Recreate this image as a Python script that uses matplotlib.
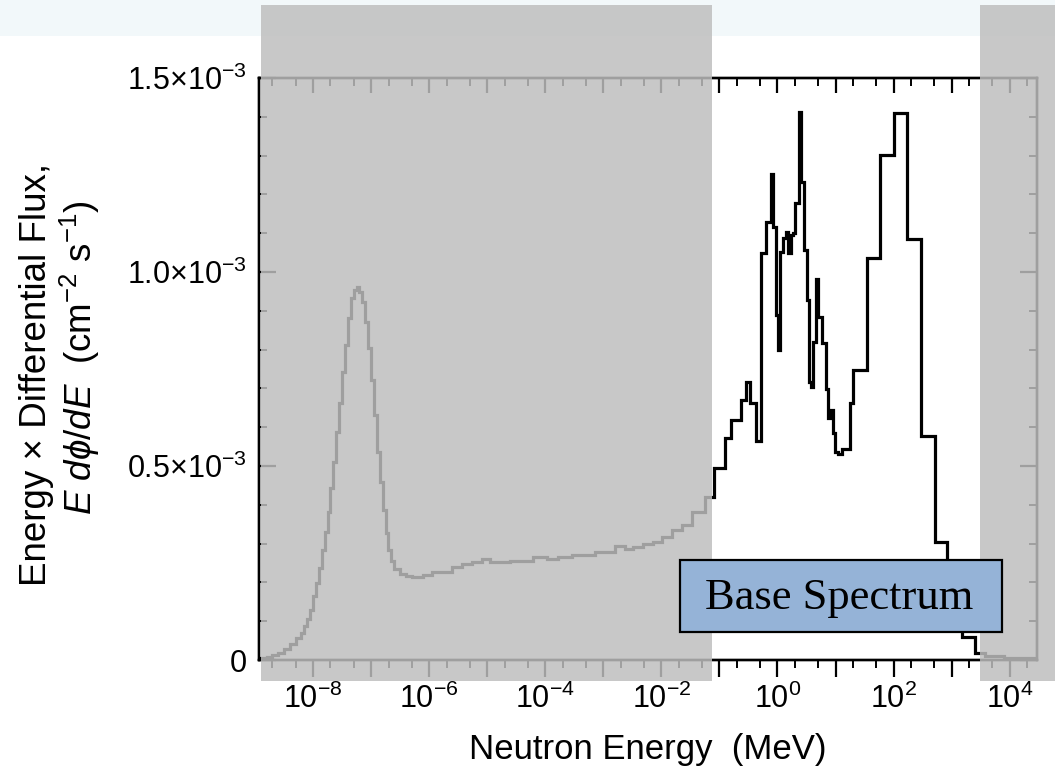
import numpy as np
import matplotlib
matplotlib.use('Agg')
import matplotlib.pyplot as plt
from matplotlib.patches import Rectangle
from matplotlib.ticker import FixedLocator, FuncFormatter, LogLocator, NullFormatter, MultipleLocator

# ---------------- data ----------------
# log10 of bin edges (MeV) -- thermal / epithermal part (lower edges)
log_edges_low = [-8.93, -8.8, -8.7, -8.6, -8.5, -8.4, -8.3, -8.2, -8.15, -8.1,
                 -8.05, -8.0, -7.95, -7.9, -7.85, -7.8, -7.75, -7.7, -7.65, -7.6,
                 -7.55, -7.5, -7.45, -7.4, -7.35, -7.3, -7.25, -7.2, -7.15, -7.1,
                 -7.05, -7.0, -6.95, -6.9, -6.85, -6.8, -6.75, -6.7, -6.65, -6.6,
                 -6.5, -6.4, -6.3, -6.1, -5.95, -5.8, -5.61, -5.43, -5.26, -5.09,
                 -4.95, -4.6, -4.21, -3.97, -3.78, -3.54, -3.14, -2.80, -2.625, -2.49,
                 -2.315, -2.14, -1.99, -1.816, -1.643, -1.471, -1.247]
# E dphi/dE in units of 1e-3 cm^-2 s^-1
flux_low = [0.006, 0.009, 0.013, 0.019, 0.028, 0.040, 0.057, 0.070, 0.088, 0.106,
            0.129, 0.165, 0.198, 0.237, 0.284, 0.330, 0.381, 0.443, 0.510, 0.588,
            0.662, 0.742, 0.812, 0.881, 0.933, 0.954, 0.961, 0.948, 0.923, 0.871,
            0.804, 0.722, 0.631, 0.536, 0.459, 0.387, 0.327, 0.284, 0.255, 0.235,
            0.222, 0.216, 0.215, 0.220, 0.226, 0.228, 0.240, 0.247, 0.253, 0.260,
            0.253, 0.255, 0.266, 0.260, 0.266, 0.271, 0.279, 0.294, 0.286, 0.292,
            0.299, 0.305, 0.318, 0.335, 0.348, 0.382, 0.420]
# fast part: all edges including the last one
log_edges_high = [-1.09, -0.903, -0.799, -0.632, -0.541, -0.472, -0.369, -0.283, -0.202, -0.115,
                  -0.081, -0.029, 0.016, 0.045, 0.102, 0.148, 0.188, 0.229, 0.264, 0.308,
                  0.367, 0.401, 0.458, 0.505, 0.550, 0.579, 0.618, 0.660, 0.705, 0.763,
                  0.832, 0.877, 0.923, 0.963, 0.997, 1.039, 1.108, 1.251, 1.308, 1.538,
                  1.767, 2.014, 2.238, 2.469, 2.715, 2.922, 3.180, 3.404, 3.576, 3.9, 4.47]
flux_high = [0.495, 0.572, 0.619, 0.670, 0.716, 0.662, 0.564, 1.049, 1.129, 1.253,
             1.116, 0.889, 0.799, 1.052, 1.088, 1.103, 1.049, 1.095, 1.101, 1.178,
             1.412, 1.232, 1.057, 0.928, 0.716, 0.704, 0.820, 0.982, 0.884, 0.817,
             0.698, 0.624, 0.644, 0.585, 0.536, 0.531, 0.544, 0.662, 0.747, 1.036,
             1.302, 1.410, 1.085, 0.577, 0.304, 0.17, 0.059, 0.019, 0.010, 0.004]

y_ticks = [0, 0.5e-3, 1.0e-3, 1.5e-3]
y_tick_labels = ['0', '0.5×10$^{-3}$', '1.0×10$^{-3}$', '1.5×10$^{-3}$']
x_label = 'Neutron Energy  (MeV)'
y_label_1 = 'Energy × Differential Flux,'
y_label_2 = r'$E\ d\phi/dE$  (cm$^{-2}$ s$^{-1}$)'
box_text = 'Base Spectrum'

# ---------------- style ----------------
plt.rcParams['font.family'] = ['Liberation Sans', 'DejaVu Sans']
plt.rcParams['mathtext.fontset'] = 'custom'
plt.rcParams['mathtext.rm'] = 'Liberation Sans'
plt.rcParams['mathtext.it'] = 'Liberation Sans:italic'
plt.rcParams['mathtext.bf'] = 'Liberation Sans:bold'

W, H = 1055, 778
fig = plt.figure(figsize=(W / 100, H / 100), dpi=100)
fig.patch.set_facecolor('white')

def fx(px):
    return px / W

def fy(py):
    return 1 - py / H

# faint slide background band at the top
fig.add_artist(Rectangle((0, fy(36)), 1, 36 / H, transform=fig.transFigure,
                         facecolor='#f2f8fa', edgecolor='none', zorder=-5))

ax = fig.add_axes([fx(259), fy(660), (1037 - 259) / W, (660 - 78) / H])
edges = 10.0 ** np.array(log_edges_low + log_edges_high)
vals = np.array(flux_low + flux_high) * 1e-3
ax.stairs(vals, edges, color='black', lw=2.3, baseline=0)
ax.set_xscale('log')
ax.set_xlim(edges[0], edges[-1])
ax.set_ylim(0, 1.5e-3)

decades = 10.0 ** np.arange(-9, 5)

def xfmt(v, pos):
    e = int(round(np.log10(v)))
    return f'$10^{{{e}}}$' if e % 2 == 0 else ''

axt = ax.twiny()
for a in (ax, axt):
    a.set_xscale('log')
    a.set_xlim(edges[0], edges[-1])
    a.xaxis.set_major_locator(FixedLocator(decades))
    a.xaxis.set_minor_locator(LogLocator(base=10, subs=(2.0, 5.0), numticks=40))
    a.xaxis.set_minor_formatter(NullFormatter())
ax.xaxis.set_major_formatter(FuncFormatter(xfmt))
axt.xaxis.set_major_formatter(NullFormatter())

ax.tick_params(axis='x', which='major', direction='out', length=12, width=1.6,
               labelsize=22, pad=5, top=False, bottom=True)
ax.tick_params(axis='x', which='minor', direction='out', length=6, width=1.4,
               top=False, bottom=True)
axt.tick_params(axis='x', which='major', direction='in', length=11, width=1.6,
                top=True, bottom=False, labeltop=False)
axt.tick_params(axis='x', which='minor', direction='in', length=6, width=1.4,
                top=True, bottom=False)

ax.set_yticks(y_ticks)
ax.set_yticklabels(y_tick_labels)
ax.yaxis.set_minor_locator(MultipleLocator(1e-4))
ax.tick_params(axis='y', which='major', direction='in', length=12, width=1.6,
               right=True, left=True, labelsize=22, pad=9)
ax.tick_params(axis='y', which='minor', direction='in', length=6, width=1.4,
               right=True, left=True)

for a in (ax, axt):
    for s in a.spines.values():
        s.set_linewidth(1.7)
        s.set_color('black')

fig.text(fx(648), fy(750), x_label, ha='center', va='center', size=25)
fig.text(fx(37), fy(374), y_label_1, rotation=90, ha='center', va='center', size=26.5)
fig.text(fx(80), fy(358), y_label_2, rotation=90, ha='center', va='center', size=26.5)

# grey overlay boxes (slide annotation)
shade = (0.745, 0.745, 0.745)
fig.add_artist(Rectangle((fx(261), fy(681)), (712 - 261) / W, (681 - 5) / H,
                         transform=fig.transFigure, facecolor=shade, alpha=0.843,
                         edgecolor='none', zorder=10))
fig.add_artist(Rectangle((fx(980), fy(681)), (1060 - 980) / W, (681 - 5) / H,
                         transform=fig.transFigure, facecolor=shade, alpha=0.843,
                         edgecolor='none', zorder=10))

# "Base Spectrum" label box
fig.add_artist(Rectangle((fx(680), fy(632)), (1002 - 680) / W, (632 - 560) / H,
                         transform=fig.transFigure, facecolor='#95b3d7',
                         edgecolor='black', lw=1.6, zorder=20))
fig.text(fx(839), fy(598), box_text, ha='center', va='center', size=32,
         family='Liberation Serif', zorder=21)

fig.savefig('out.png', dpi=100)
